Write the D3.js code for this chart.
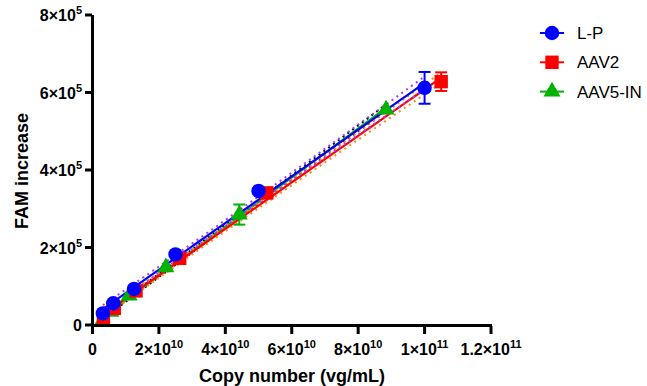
<!DOCTYPE html>
<html>
<head>
<meta charset="utf-8">
<script src="https://cdn.jsdelivr.net/npm/d3@7"></script>
<style>
  body { margin: 0; background: #fff; }
  svg { font-family: "Liberation Sans", Arial, sans-serif; }
</style>
</head>
<body>
<svg id="chart" width="647" height="386"></svg>
<script>
// data
const seriesNames = ['L-P', 'AAV2', 'AAV5-IN'];
const lpX = [3.125e9, 6.25e9, 1.25e10, 2.5e10, 5e10, 1e11];
const lpY = [0.30e5, 0.56e5, 0.93e5, 1.82e5, 3.46e5, 6.12e5];
const lpErr = [0, 0, 0, 0, 0, 0.41e5];
const aav2X = [3.28e9, 6.56e9, 1.31e10, 2.625e10, 5.25e10, 1.05e11];
const aav2Y = [0.17e5, 0.43e5, 0.88e5, 1.72e5, 3.41e5, 6.28e5];
const aav2Err = [0, 0, 0, 0, 0, 0.24e5];
const aav5X = [2.76e9, 5.52e9, 1.105e10, 2.21e10, 4.42e10, 8.84e10];
const aav5Y = [0.08e5, 0.34e5, 0.76e5, 1.49e5, 2.85e5, 5.56e5];
const aav5Err = [0, 0, 0, 0, 0.26e5, 0];
const replicates = 3;
const xTicks = [0, 2e10, 4e10, 6e10, 8e10, 1e11, 1.2e11];
const yTicks = [0, 2e5, 4e5, 6e5, 8e5];

const series = [
    {name: 'AAV5-IN', x: aav5X, y: aav5Y, err: aav5Err, color: '#00b300', band: '#000000', shape: d3.symbolTriangle},
    {name: 'AAV2', x: aav2X, y: aav2Y, err: aav2Err, color: '#ff0000', band: '#ff8c1a', shape: d3.symbolSquare},
    {name: 'L-P', x: lpX, y: lpY, err: lpErr, color: '#0000ff', band: '#a040ff', shape: d3.symbolCircle}
];

const svg = d3.select('#chart');
const x = d3.scaleLinear().domain([0, 1.2e11]).range([92.5, 491]);
const y = d3.scaleLinear().domain([0, 8e5]).range([325, 15]);

function symSize(shape) {
    return shape === d3.symbolTriangle ? 125 : shape === d3.symbolSquare ? 180 : 165;
}

function sup(v) {
    if (v === 0) return ['0', ''];
    let e = Math.floor(Math.log10(v) + 1e-9);
    let m = +(v / Math.pow(10, e)).toFixed(1);
    return [m + '\u00d710', String(e)];
}

// straight-line fit, 95% confidence band assuming triplicate measurements
function fit(xs, ys) {
    let k = xs.length, n = k * replicates, mx = d3.mean(xs), my = d3.mean(ys);
    let sxx = d3.sum(xs, v => (v - mx) ** 2);
    let sxy = d3.sum(xs.map((v, i) => (v - mx) * (ys[i] - my)));
    let b = sxy / sxx, a = my - b * mx;
    let s = Math.sqrt(d3.sum(xs.map((v, i) => (ys[i] - a - b * v) ** 2)) / (k - 2));
    let t = 2.12;
    return {a, b, ci: xv => t * s * Math.sqrt(1 / n + (xv - mx) ** 2 / (sxx * replicates))};
}

// regression lines and confidence bands
const lineG = svg.append('g');
series.forEach(sr => {
    let f = fit(sr.x, sr.y);
    let xs = d3.range(41).map(i => d3.min(sr.x) + (d3.max(sr.x) - d3.min(sr.x)) * i / 40);
    let ln = d3.line().x(d => x(d[0])).y(d => y(d[1]));
    [1, -1].forEach(sg => {
        lineG.append('path')
            .attr('d', ln(xs.map(v => [v, f.a + f.b * v + sg * f.ci(v)])))
            .attr('fill', 'none')
            .attr('stroke', sr.band)
            .attr('stroke-width', 2)
            .attr('stroke-dasharray', '2,4');
    });
    lineG.append('path')
        .attr('d', ln(xs.map(v => [v, f.a + f.b * v])))
        .attr('fill', 'none')
        .attr('stroke', sr.color)
        .attr('stroke-width', 2.2);
});

// error bars + markers
series.forEach(sr => {
    let g = svg.append('g');
    sr.x.forEach((xv, i) => {
        if (!sr.err[i]) return;
        let cx = x(xv), y1 = y(sr.y[i] + sr.err[i]), y0 = y(sr.y[i] - sr.err[i]);
        g.append('line').attr('x1', cx).attr('x2', cx).attr('y1', y1).attr('y2', y0)
            .attr('stroke', sr.color).attr('stroke-width', 2);
        [y1, y0].forEach(yy => g.append('line')
            .attr('x1', cx - 6).attr('x2', cx + 6).attr('y1', yy).attr('y2', yy)
            .attr('stroke', sr.color).attr('stroke-width', 2));
    });
    g.selectAll('path')
        .data(sr.x.map((xv, i) => [xv, sr.y[i]]))
        .enter().append('path')
        .attr('d', d3.symbol().type(sr.shape).size(symSize(sr.shape)))
        .attr('transform', d => `translate(${x(d[0])},${y(d[1])})`)
        .attr('fill', sr.color);
});

// axes
const axG = svg.append('g').attr('font-weight', 'bold').attr('font-size', 16);
axG.append('line').attr('x1', 92.5).attr('x2', 92.5).attr('y1', 15).attr('y2', 327)
    .attr('stroke', '#000').attr('stroke-width', 3);
axG.append('line').attr('x1', 91).attr('x2', 492).attr('y1', 325.5).attr('y2', 325.5)
    .attr('stroke', '#000').attr('stroke-width', 3);

yTicks.forEach(v => {
    axG.append('line').attr('x1', 85).attr('x2', 92).attr('y1', y(v)).attr('y2', y(v))
        .attr('stroke', '#000').attr('stroke-width', 3);
    let [m, e] = sup(v);
    let t = axG.append('text').attr('x', 82).attr('y', y(v) + 6).attr('text-anchor', 'end');
    t.append('tspan').text(m);
    if (e) t.append('tspan').attr('dy', -7).attr('font-size', 11).text(e);
});

xTicks.forEach(v => {
    axG.append('line').attr('x1', x(v)).attr('x2', x(v)).attr('y1', 326).attr('y2', 334)
        .attr('stroke', '#000').attr('stroke-width', 3);
    let [m, e] = sup(v);
    let t = axG.append('text').attr('x', x(v)).attr('y', 355).attr('text-anchor', 'middle');
    t.append('tspan').text(m);
    if (e) t.append('tspan').attr('dy', -7).attr('font-size', 11).text(e);
});

svg.append('text').attr('x', 292).attr('y', 382).attr('text-anchor', 'middle')
    .attr('font-weight', 'bold').attr('font-size', 18).text('Copy number (vg/mL)');
svg.append('text').attr('transform', 'translate(28,171) rotate(-90)').attr('text-anchor', 'middle')
    .attr('font-weight', 'bold').attr('font-size', 18).text('FAM increase');

// legend
const legend = [...series].reverse();
legend.forEach((sr, i) => {
    let ly = 33 + i * 29.3;
    svg.append('line').attr('x1', 540).attr('x2', 564).attr('y1', ly).attr('y2', ly)
        .attr('stroke', sr.color).attr('stroke-width', 2);
    svg.append('path')
        .attr('d', d3.symbol().type(sr.shape).size(symSize(sr.shape)))
        .attr('transform', `translate(552,${ly})`).attr('fill', sr.color);
    svg.append('text').attr('x', 577).attr('y', ly + 6).attr('font-size', 17).text(sr.name);
});
</script>
</body>
</html>
